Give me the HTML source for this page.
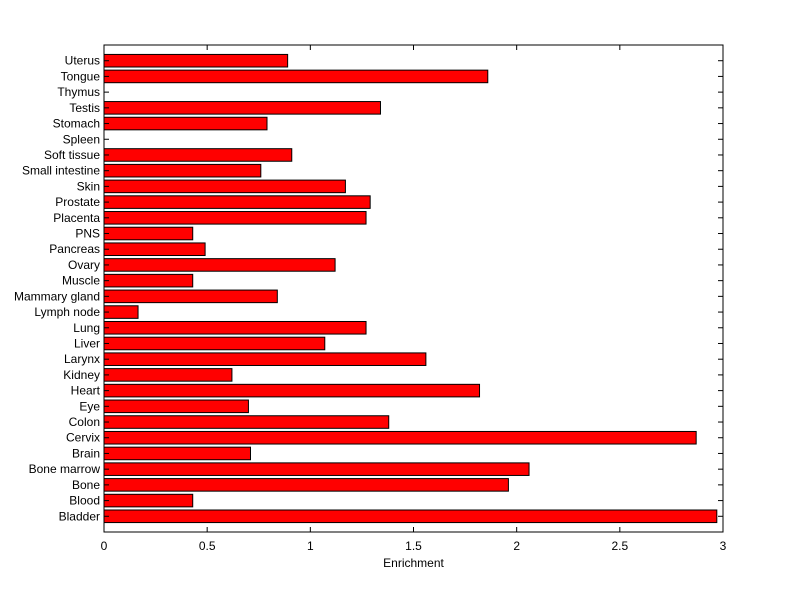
<!DOCTYPE html>
<html><head><meta charset="utf-8"><style>
html,body{margin:0;padding:0;background:#fff;}
svg text{font-family:"Liberation Sans",Arial,sans-serif;font-size:12px;fill:#000;}
</style></head><body>
<svg id="chart" width="800" height="599" xmlns="http://www.w3.org/2000/svg">
<rect x="0" y="0" width="800" height="599" fill="#fff"/>
<g id="bars"></g>
<g id="axes"></g>
</svg>
<script>
const categories = ["Bladder","Blood","Bone","Bone marrow","Brain","Cervix","Colon","Eye","Heart","Kidney","Larynx","Liver","Lung","Lymph node","Mammary gland","Muscle","Ovary","Pancreas","PNS","Placenta","Prostate","Skin","Small intestine","Soft tissue","Spleen","Stomach","Testis","Thymus","Tongue","Uterus"];
const values = [2.97,0.43,1.96,2.06,0.71,2.87,1.38,0.70,1.82,0.62,1.56,1.07,1.27,0.165,0.84,0.43,1.12,0.49,0.43,1.27,1.29,1.17,0.76,0.91,0,0.79,1.34,0,1.86,0.89];
const xTicks = [0,0.5,1,1.5,2,2.5,3];
const xTickLabels = ["0","0.5","1","1.5","2","2.5","3"];

const L=104,R=723,T=45,B=532,xMax=3,yMax=categories.length+1;
const xs=v=>L+(v/xMax)*(R-L);
const ys=i=>B-(i/yMax)*(B-T);
const NS="http://www.w3.org/2000/svg";
const bars=document.getElementById('bars'),axes=document.getElementById('axes');
function mk(tag,attrs,parent){const e=document.createElementNS(NS,tag);for(const k in attrs)e.setAttribute(k,attrs[k]);parent.appendChild(e);return e;}
const bh=0.8*(B-T)/yMax;
categories.forEach((c,k)=>{
  const i=k+1,cy=ys(i);
  if(values[k]>0){
    const r=mk('rect',{x:xs(0),y:cy-bh/2,width:xs(values[k])-xs(0),height:bh,fill:'#ff0000',stroke:'#000','stroke-width':1},bars);
    
    
  }
  mk('line',{x1:L,x2:L+5,y1:cy,y2:cy,stroke:'#000'},axes);
  mk('line',{x1:R,x2:R-5,y1:cy,y2:cy,stroke:'#000'},axes);
  const t=mk('text',{x:L-4,y:cy+4,'text-anchor':'end'},axes);
  t.textContent=c;
  
  
});
xTicks.forEach((v,k)=>{
  const x=xs(v);
  mk('line',{x1:x,x2:x,y1:B,y2:B-5,stroke:'#000'},axes);
  mk('line',{x1:x,x2:x,y1:T,y2:T+5,stroke:'#000'},axes);
  const t=mk('text',{x:x,y:B+18,'text-anchor':'middle'},axes);
  t.textContent=xTickLabels[k];
  
  
});
const frame=mk('rect',{x:L,y:T,width:R-L,height:B-T,fill:'none',stroke:'#000'},axes);


const xt=mk('text',{x:(L+R)/2,y:567,'text-anchor':'middle'},axes);
xt.textContent='Enrichment';


</script>
</body></html>
